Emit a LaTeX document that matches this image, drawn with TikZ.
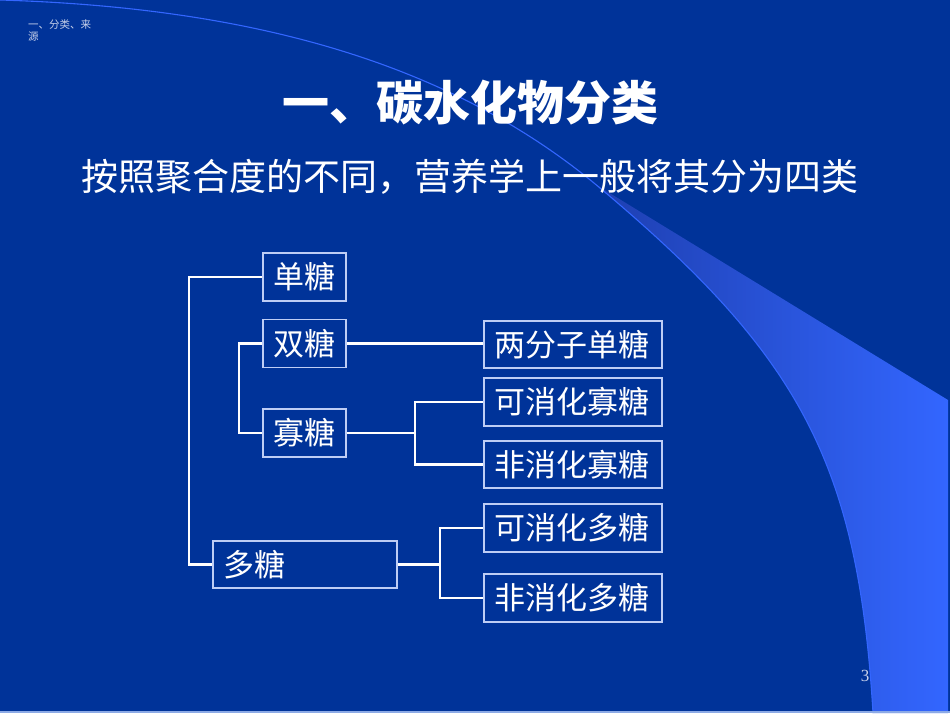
\documentclass[tikz,border=0pt]{standalone}
\usepackage{fontspec}
\setmainfont{Noto Sans CJK SC}
\newfontfamily\numfont{Liberation Serif}
\definecolor{bg}{RGB}{0,51,153}
\definecolor{bright}{RGB}{51,102,255}
\definecolor{tipc}{RGB}{28,60,170}
\definecolor{boxline}{RGB}{190,205,245}
\definecolor{smalltxt}{RGB}{200,210,235}
\definecolor{bottomline}{RGB}{140,170,230}
\tikzset{
  catbox/.style={draw=boxline, line width=1.2pt, rectangle, inner xsep=10pt, inner ysep=0pt,
    minimum height=48pt, text height=23.5pt, text depth=0pt,
    font=\fontsize{31}{31}\selectfont, text=white},
  conn/.style={draw=white, line width=2.6pt},
}
\begin{document}
\begin{tikzpicture}[x=1pt,y=-1pt]
\useasboundingbox (0,0) rectangle (950,713);
\fill[bg] (0,0) rectangle (950,713);
% wedge
\begin{scope}
  \clip (0,0) .. controls (250,7.5) and (450,62) .. (600,188) .. controls (800,356) and (858,463) .. (873,713) -- (950,713) -- (950,0) -- cycle;
  \shade[left color=tipc, right color=bright] (570,168.8) -- (948,400) -- (948,713) -- (570,713) -- cycle;
\end{scope}
\draw[bright, line width=1.1pt] (0,0) .. controls (250,7.5) and (450,62) .. (600,188) .. controls (800,356) and (858,463) .. (873,713);
\fill[bottomline] (0,711) rectangle (950,713);
% small header text
\node[anchor=base west, inner sep=0pt, text=smalltxt, font=\fontsize{10.5}{12}\selectfont] (hd1) at (28,28) {一、分类、来};
\node[anchor=base west, inner sep=0pt, text=smalltxt, font=\fontsize{10.5}{12}\selectfont] (hd2) at (28,40) {源};
% title
\node[anchor=base, inner sep=0pt, text=white, font=\fontsize{47}{47}\selectfont\bfseries] (title) at (470,120) {一、碳水化物分类};
\node[anchor=base, inner sep=0pt, text=white, font=\fontsize{37}{37}\selectfont] (sub) at (470,190) {按照聚合度的不同，营养学上一般将其分为四类};
% boxes
\node[catbox] (dan) at (304.5,277) {\makebox[63pt][l]{单糖}};
\node[catbox] (shuang) at (304.5,343.5) {\makebox[63pt][l]{双糖}};
\node[catbox] (gua) at (304.5,433) {\makebox[63pt][l]{寡糖}};
\node[catbox, minimum height=47pt] (duo) at (305,564.5) {\makebox[164pt][l]{多糖}};
\node[catbox, minimum height=47pt] (liang) at (573,344.5) {\makebox[158pt][l]{两分子单糖}};
\node[catbox] (kxg) at (573,402) {\makebox[158pt][l]{可消化寡糖}};
\node[catbox, minimum height=47pt] (fxg) at (573,464.5) {\makebox[158pt][l]{非消化寡糖}};
\node[catbox] (kxd) at (573,528) {\makebox[158pt][l]{可消化多糖}};
\node[catbox] (fxd) at (573,598) {\makebox[158pt][l]{非消化多糖}};
% junction x positions
\coordinate (j1) at (189,0);
\coordinate (j2) at (239,0);
\coordinate (j3) at (415,0);
\coordinate (j4) at (440,0);
% connectors
\draw[conn] (dan.west) -- (dan.west -| j1) |- (duo.west);
\draw[conn] (shuang.west) -- (shuang.west -| j2) |- (gua.west);
\draw[conn] (shuang.east) -- (shuang.east -| liang.west);
\draw[conn] (gua.east) -- (gua.east -| j3) |- (kxg.west);
\draw[conn] (gua.east -| j3) |- (fxg.west);
\draw[conn] (duo.east) -- (duo.east -| j4) |- (kxd.west);
\draw[conn] (duo.east -| j4) |- (fxd.west);
% page number
\node[anchor=base, inner sep=0pt, text=smalltxt, font=\numfont\fontsize{17}{17}\selectfont] (pg) at (865,681) {3};
\end{tikzpicture}
\end{document}
